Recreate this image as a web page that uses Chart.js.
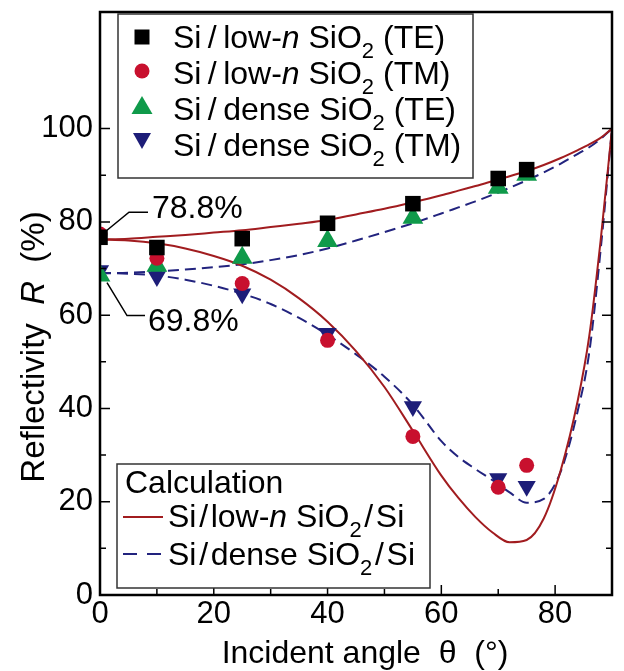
<!DOCTYPE html>
<html>
<head>
<meta charset="utf-8">
<script src="https://cdn.jsdelivr.net/npm/chart.js@4.4.1/dist/chart.umd.min.js"></script>
<style>
  body { margin: 0; background: #fff; }
  #wrap { width: 624px; height: 671px; }
</style>
</head>
<body>
<div id="wrap"><canvas id="chart" width="624" height="671"></canvas></div>
<script>
// Mesures (symboles)
const angleMeas = [0, 10, 25, 40, 55, 70, 75];
const lowNTE = [76.7, 74.5, 76.4, 79.7, 83.9, 89.3, 91.2];
const lowNTM = [77.4, 72.2, 66.8, 54.6, 34.0, 23.1, 27.8];
const denseTE = [68.5, 70.6, 72.3, 75.9, 80.9, 87.3, 90.1];
const denseTM = [69.6, 68.3, 64.6, 56.1, 40.4, 25.0, 23.3];

// Calcul (courbes)
const angleCalc = [0, 5, 10, 15, 20, 25, 30, 35, 40, 45, 50, 55, 60, 63, 66, 69, 72, 75, 78, 81, 84, 86, 88, 90];
const calcLowNTE = [76.2, 76.4, 76.8, 77.2, 77.7, 78.2, 78.9, 79.6, 80.4, 81.6, 82.8, 84.2, 85.7, 86.7, 87.7, 88.7, 89.8, 90.9, 92.2, 93.7, 95.4, 96.6, 98.0, 100];
const calcLowNTM = [76.2, 76.0, 75.4, 74.3, 72.7, 70.6, 67.6, 63.6, 58.6, 52.3, 44.6, 35.2, 25.6, 20.8, 16.7, 13.4, 11.3, 11.8, 16.4, 26.8, 41.8, 55.5, 76.0, 100];
const calcDenseTE = [69.0, 69.1, 69.4, 69.8, 70.3, 70.9, 71.8, 72.9, 74.3, 76.0, 77.8, 79.7, 81.8, 83.1, 84.4, 85.8, 87.3, 88.9, 90.6, 92.5, 94.6, 96.0, 97.8, 100];
const calcDenseTM = [69.0, 68.9, 68.5, 67.6, 66.3, 64.6, 62.4, 59.4, 55.8, 51.6, 46.8, 40.8, 33.0, 29.6, 27.0, 24.6, 22.0, 19.8, 20.6, 26.5, 39.6, 52.0, 74.0, 100];

const xTicks = [0, 20, 40, 60, 80];
const yTicks = [0, 20, 40, 60, 80, 100];

const FONT = '"Liberation Sans", Arial, sans-serif';
const RED_LINE = '#a11c1f';
const BLUE_LINE = '#22237e';
const RED_DOT = '#c8102e';
const GREEN = '#0f9a4a';
const NAVY = '#1d1d78';
const SL = '\u2009/\u2009';
const SL2 = '\u200a/\u200a';

const pts = (xs, ys) => xs.map((v, i) => ({ x: v, y: ys[i] }));

// Texte avec italique / indice
function drawParts(ctx, x, y, parts, size) {
    let cx = x;
    for (const p of parts) {
        const s = p.sub ? Math.round(size * 0.7) : size;
        ctx.font = (p.it ? 'italic ' : '') + s + 'px ' + FONT;
        ctx.fillText(p.t, cx, y + (p.sub ? size * 0.3 : 0));
        cx += ctx.measureText(p.t).width;
    }
    return cx - x;
}
function partsWidth(ctx, parts, size) {
    let w = 0;
    for (const p of parts) {
        const s = p.sub ? Math.round(size * 0.7) : size;
        ctx.font = (p.it ? 'italic ' : '') + s + 'px ' + FONT;
        w += ctx.measureText(p.t).width;
    }
    return w;
}

function marker(ctx, type, x, y, color) {
    ctx.fillStyle = color;
    ctx.beginPath();
    if (type === 'rect') {
        ctx.rect(x - 7.5, y - 7.5, 15, 15);
    } else if (type === 'circle') {
        ctx.arc(x, y, 7.5, 0, Math.PI * 2);
    } else if (type === 'up') {
        ctx.moveTo(x, y - 11); ctx.lineTo(x + 10.5, y + 7); ctx.lineTo(x - 10.5, y + 7);
    } else {
        ctx.moveTo(x, y + 10); ctx.lineTo(x + 9, y - 6); ctx.lineTo(x - 9, y - 6);
    }
    ctx.closePath();
    ctx.fill();
}

const noPad = s => { s.paddingTop = 0; s.paddingBottom = 0; s.paddingLeft = 0; s.paddingRight = 0; };

const decorPlugin = {
    id: 'decor',
    afterDatasetsDraw(chart) {
        const { ctx, chartArea: a, scales: { x, y } } = chart;
        ctx.save();

        // ticks vers l'intérieur
        ctx.strokeStyle = '#000';
        ctx.lineWidth = 1.5;
        ctx.beginPath();
        for (let v = 10; v < 90; v += 10) {
            const px = x.getPixelForValue(v);
            const len = v % 20 === 0 ? 10 : 6;
            ctx.moveTo(px, a.bottom); ctx.lineTo(px, a.bottom - len);
        }
        for (let v = 10; v <= 100; v += 10) {
            const py = y.getPixelForValue(v);
            const len = v % 20 === 0 ? 10 : 6;
            ctx.moveTo(a.left, py); ctx.lineTo(a.left + len, py);
            ctx.moveTo(a.right, py); ctx.lineTo(a.right - len, py);
        }
        ctx.stroke();

        // cadre
        ctx.lineWidth = 2.5;
        ctx.strokeRect(a.left, a.top, a.right - a.left, a.bottom - a.top);

        // annotations
        ctx.fillStyle = '#000';
        ctx.textBaseline = 'alphabetic';
        ctx.lineWidth = 1.5;
        const x0 = x.getPixelForValue(0);
        const ySq = y.getPixelForValue(lowNTE[0]);
        const yTr = y.getPixelForValue(denseTE[0]);
        ctx.beginPath();
        ctx.moveTo(x0 + 7, ySq - 7); ctx.lineTo(x0 + 29, ySq - 25); ctx.lineTo(x0 + 48, ySq - 25);
        ctx.moveTo(x0 + 7, yTr + 7); ctx.lineTo(x0 + 27, yTr + 40); ctx.lineTo(x0 + 45, yTr + 40);
        ctx.stroke();
        ctx.font = '32px ' + FONT;
        ctx.fillText('78.8%', x0 + 52, ySq - 19);
        ctx.fillText('69.8%', x0 + 48, yTr + 55);

        // légende du haut
        ctx.fillStyle = '#fff';
        ctx.fillRect(118, 14, 355, 164);
        ctx.strokeStyle = '#333';
        ctx.lineWidth = 1.5;
        ctx.strokeRect(118, 14, 355, 164);
        const rows = [
            { m: 'rect', c: '#000', my: 37, by: 48, parts: [{ t: 'Si' + SL + 'low-' }, { t: 'n', it: true }, { t: ' SiO' }, { t: '2', sub: true }, { t: ' (TE)' }] },
            { m: 'circle', c: RED_DOT, my: 71, by: 84, parts: [{ t: 'Si' + SL + 'low-' }, { t: 'n', it: true }, { t: ' SiO' }, { t: '2', sub: true }, { t: ' (TM)' }] },
            { m: 'up', c: GREEN, my: 107, by: 120, parts: [{ t: 'Si' + SL + 'dense SiO' }, { t: '2', sub: true }, { t: ' (TE)' }] },
            { m: 'down', c: NAVY, my: 139, by: 156, parts: [{ t: 'Si' + SL + 'dense SiO' }, { t: '2', sub: true }, { t: ' (TM)' }] }
        ];
        for (const r of rows) {
            marker(ctx, r.m, 142, r.my, r.c);
            ctx.fillStyle = '#000';
            drawParts(ctx, 173, r.by, r.parts, 32);
        }

        // légende du bas
        ctx.fillStyle = '#fff';
        ctx.fillRect(117, 464, 313, 124);
        ctx.strokeStyle = '#333';
        ctx.strokeRect(117, 464, 313, 124);
        ctx.fillStyle = '#000';
        ctx.font = '32px ' + FONT;
        ctx.fillText('Calculation', 125, 493);
        ctx.strokeStyle = RED_LINE;
        ctx.lineWidth = 2;
        ctx.beginPath(); ctx.moveTo(123, 517); ctx.lineTo(163, 517); ctx.stroke();
        ctx.strokeStyle = BLUE_LINE;
        ctx.beginPath(); ctx.moveTo(123, 554); ctx.lineTo(137, 554); ctx.moveTo(147, 554); ctx.lineTo(161, 554); ctx.stroke();
        drawParts(ctx, 168, 527, [{ t: 'Si' + SL2 + 'low-' }, { t: 'n', it: true }, { t: ' SiO' }, { t: '2', sub: true }, { t: SL2 + 'Si' }], 32);
        drawParts(ctx, 168, 565, [{ t: 'Si' + SL2 + 'dense SiO' }, { t: '2', sub: true }, { t: SL2 + 'Si' }], 32);

        // titres des axes
        ctx.font = '32px ' + FONT;
        ctx.textAlign = 'center';
        ctx.fillText('Incident angle  \u03b8  (\u00b0)', 365, 663);
        ctx.textAlign = 'left';
        const yParts = [{ t: 'Reflectivity  ' }, { t: 'R', it: true }, { t: '  (%)' }];
        const w = partsWidth(ctx, yParts, 33);
        ctx.translate(44, 347);
        ctx.rotate(-Math.PI / 2);
        drawParts(ctx, -w / 2, 0, yParts, 33);
        ctx.restore();
    }
};

const ctx = document.getElementById('chart').getContext('2d');
new Chart(ctx, {
    type: 'scatter',
    data: {
        datasets: [
            { label: 'Si/low-n SiO2 (TE)', data: pts(angleMeas, lowNTE), pointStyle: 'rect', pointRadius: 11, backgroundColor: '#000', borderWidth: 0 },
            { label: 'Si/low-n SiO2 (TM)', data: pts(angleMeas, lowNTM), pointStyle: 'circle', pointRadius: 7.5, backgroundColor: RED_DOT, borderWidth: 0 },
            { label: 'Si/dense SiO2 (TE)', data: pts(angleMeas, denseTE), pointStyle: 'triangle', pointRadius: 12, backgroundColor: GREEN, borderWidth: 0 },
            { label: 'Si/dense SiO2 (TM)', data: pts(angleMeas, denseTM), pointStyle: 'triangle', rotation: 180, pointRadius: 10.5, backgroundColor: NAVY, borderWidth: 0 },
            { label: 'calc low-n TE', data: pts(angleCalc, calcLowNTE), showLine: true, pointRadius: 0, borderColor: RED_LINE, borderWidth: 2, cubicInterpolationMode: 'monotone' },
            { label: 'calc low-n TM', data: pts(angleCalc, calcLowNTM), showLine: true, pointRadius: 0, borderColor: RED_LINE, borderWidth: 2, cubicInterpolationMode: 'monotone' },
            { label: 'calc dense TE', data: pts(angleCalc, calcDenseTE), showLine: true, pointRadius: 0, borderColor: BLUE_LINE, borderWidth: 2, borderDash: [11, 6], cubicInterpolationMode: 'monotone' },
            { label: 'calc dense TM', data: pts(angleCalc, calcDenseTM), showLine: true, pointRadius: 0, borderColor: BLUE_LINE, borderWidth: 2, borderDash: [11, 6], cubicInterpolationMode: 'monotone' }
        ]
    },
    options: {
        responsive: false,
        animation: false,
        devicePixelRatio: 1,
        layout: { padding: { top: 10, right: 6, left: 0, bottom: 0 } },
        plugins: { legend: { display: false }, tooltip: { enabled: false } },
        scales: {
            x: {
                type: 'linear', min: 0, max: 90,
                grid: { display: false, drawTicks: false },
                border: { display: false },
                afterBuildTicks: s => { s.ticks = xTicks.map(v => ({ value: v })); },
                afterFit: s => { s.height = 76; noPad(s); },
                ticks: { color: '#000', padding: 1, font: { family: FONT, size: 31 } }
            },
            y: {
                type: 'linear', min: 0, max: 125,
                grid: { display: false, drawTicks: false },
                border: { display: false },
                afterBuildTicks: s => { s.ticks = yTicks.map(v => ({ value: v })); },
                afterFit: s => { s.width = 100; noPad(s); },
                ticks: { color: '#000', padding: 7, font: { family: FONT, size: 31 } }
            }
        }
    },
    plugins: [decorPlugin]
});
</script>
</body>
</html>
